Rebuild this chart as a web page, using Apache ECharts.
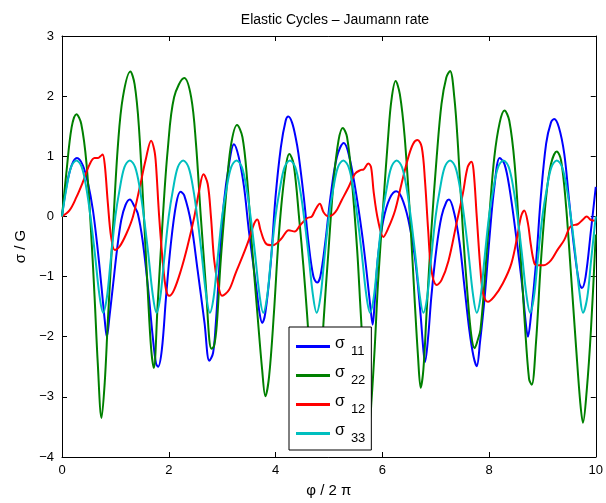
<!DOCTYPE html>
<html><head><meta charset="utf-8">
<script src="https://cdn.jsdelivr.net/npm/echarts@6/dist/echarts.min.js"></script>
<style>html,body{margin:0;padding:0;background:#fff}#c{width:606px;height:503px}</style>
</head><body><div id="c"></div>
<script>
// sigma_11 (blue)
var phi11 = [0,0.08,0.18,0.28,0.39,0.49,0.58,0.67,0.74,0.80,0.84,0.89,0.96,1.03,1.11,1.19,1.27,1.36,1.42,1.51,1.61,1.70,1.76,1.80,1.87,1.95,2.04,2.14,2.22,2.29,2.42,2.54,2.67,2.76,2.83,2.88,2.93,2.97,3.03,3.13,3.22,3.31,3.41,3.50,3.63,3.70,3.75,3.81,3.91,4.00,4.10,4.19,4.24,4.31,4.38,4.43,4.53,4.62,4.71,4.78,4.84,4.93,5.03,5.15,5.28,5.37,5.49,5.62,5.71,5.79,5.82,5.86,5.92,6.02,6.14,6.26,6.36,6.49,6.61,6.71,6.77,6.80,6.86,6.92,7.02,7.11,7.20,7.25,7.35,7.45,7.54,7.63,7.71,7.77,7.83,7.92,8.01,8.10,8.20,8.29,8.38,8.51,8.63,8.68,8.73,8.78,8.88,8.97,9.07,9.16,9.22,9.31,9.41,9.50,9.60,9.69,9.74,9.81,9.91,10.0];
var s11 = [0,0.49,0.85,0.97,0.85,0.54,0.10,-0.56,-1.17,-1.72,-2.0,-1.66,-1.11,-0.56,-0.06,0.19,0.28,0.16,0.05,-0.40,-1.17,-2.0,-2.44,-2.50,-2.22,-1.33,-0.45,0.21,0.41,0.35,-0.12,-0.89,-1.77,-2.40,-2.27,-1.80,-1.10,-0.50,0.21,0.87,1.20,0.99,0.49,-0.23,-1.11,-1.60,-1.77,-1.60,-0.78,0.32,1.15,1.59,1.66,1.56,1.30,1.04,0.32,-0.45,-1.0,-1.10,-1.0,-0.45,0.32,0.99,1.22,1.04,0.49,-0.28,-0.95,-1.61,-1.80,-1.40,-0.67,-0.06,0.30,0.42,0.32,-0.06,-0.67,-1.55,-2.22,-2.42,-2.0,-1.33,-0.50,0,0.24,0.28,0.05,-0.45,-1.17,-1.88,-2.33,-2.49,-2.10,-1.33,-0.34,0.49,0.97,0.87,0.49,-0.34,-1.22,-1.70,-2.0,-1.70,-0.78,0.32,1.21,1.56,1.62,1.48,1.04,0.27,-0.56,-1.11,-1.19,-1.0,-0.23,0.49];

// sigma_22 (green)
var phi22 = [0,0.08,0.18,0.27,0.36,0.46,0.55,0.61,0.67,0.74,0.80,0.86,0.96,1.05,1.14,1.28,1.36,1.44,1.54,1.61,1.67,1.72,1.79,1.89,1.98,2.10,2.29,2.42,2.51,2.60,2.70,2.76,2.80,2.85,2.90,2.97,3.07,3.16,3.28,3.38,3.47,3.56,3.66,3.75,3.81,3.88,3.97,4.06,4.16,4.26,4.34,4.45,4.52,4.59,4.66,4.72,4.77,4.83,4.90,4.99,5.09,5.18,5.26,5.34,5.43,5.53,5.59,5.65,5.71,5.76,5.80,5.86,5.92,6.02,6.11,6.17,6.25,6.33,6.42,6.52,6.61,6.67,6.72,6.77,6.83,6.92,7.02,7.11,7.20,7.27,7.35,7.42,7.51,7.60,7.67,7.73,7.79,7.84,7.92,8.01,8.10,8.20,8.29,8.38,8.48,8.57,8.67,8.75,8.80,8.88,8.97,9.07,9.16,9.27,9.35,9.44,9.53,9.63,9.71,9.76,9.83,9.91,10.0];
var s22 = [0,0.71,1.48,1.70,1.54,0.87,-0.34,-1.33,-2.44,-3.35,-2.77,-1.72,-0.12,1.21,1.98,2.41,2.20,1.50,-0.10,-1.30,-2.20,-2.52,-1.50,0,1.10,1.98,2.30,1.98,1.21,0,-1.22,-2.05,-2.20,-2.15,-1.80,-0.78,0.32,1.15,1.52,1.32,0.60,-0.50,-1.61,-2.55,-2.99,-2.66,-1.61,-0.34,0.60,1.04,0.87,-0.10,-0.80,-1.61,-2.50,-3.15,-3.45,-2.90,-1.75,-0.60,0.60,1.26,1.47,1.32,0.60,-0.56,-1.50,-2.40,-3.10,-3.43,-3.04,-2.16,-1.11,0.21,1.32,1.92,2.25,2.03,1.32,0,-1.44,-2.33,-2.85,-2.55,-1.61,-0.23,0.99,1.87,2.31,2.42,1.98,1.15,-0.23,-1.33,-1.99,-2.19,-2.05,-1.88,-1.05,0.05,0.99,1.56,1.76,1.59,0.87,-0.34,-1.77,-2.70,-2.80,-2.10,-0.78,0.32,0.87,1.08,0.93,0.21,-0.89,-2.16,-3.10,-3.43,-2.90,-1.88,-0.30];

// sigma_12 (red)
var phi12 = [0,0.14,0.27,0.39,0.52,0.61,0.67,0.72,0.76,0.80,0.86,0.92,0.99,1.08,1.21,1.33,1.46,1.57,1.67,1.73,1.76,1.82,1.89,1.95,2.01,2.10,2.23,2.35,2.48,2.57,2.65,2.73,2.79,2.85,2.92,3.00,3.13,3.25,3.38,3.50,3.60,3.66,3.72,3.82,3.95,4.10,4.25,4.36,4.46,4.59,4.68,4.74,4.83,4.90,4.99,5.12,5.24,5.37,5.49,5.59,5.65,5.74,5.79,5.84,5.92,6.02,6.11,6.24,6.36,6.49,6.58,6.66,6.74,6.80,6.86,6.92,7.02,7.11,7.24,7.39,7.51,7.60,7.67,7.71,7.77,7.84,7.89,7.98,8.10,8.26,8.42,8.54,8.60,8.66,8.73,8.78,8.85,8.91,9.03,9.16,9.28,9.41,9.50,9.56,9.66,9.75,9.83,9.91,10.0];
var s12 = [0,0.10,0.32,0.57,0.87,0.97,0.97,1.0,1.03,0.87,0.21,-0.34,-0.56,-0.50,-0.28,0,0.50,0.95,1.26,1.10,0.87,0,-0.78,-1.22,-1.32,-1.22,-0.89,-0.50,0,0.43,0.70,0.54,0,-0.72,-1.11,-1.32,-1.22,-0.95,-0.67,-0.39,-0.12,-0.05,-0.23,-0.45,-0.48,-0.38,-0.23,-0.25,-0.15,-0.03,0,0.10,0.21,0.07,0,0.07,0.27,0.49,0.71,0.77,0.78,0.88,0.82,0.40,-0.06,-0.34,-0.20,0.10,0.54,0.99,1.21,1.27,1.15,0.60,-0.23,-0.89,-1.14,-1.06,-0.74,-0.12,0.38,0.82,0.91,0.77,0,-0.89,-1.28,-1.42,-1.33,-1.11,-0.78,-0.28,0,0.10,-0.12,-0.45,-0.78,-0.81,-0.81,-0.73,-0.56,-0.39,-0.20,-0.15,-0.13,-0.06,0,-0.06,-0.07];

// sigma_33 (cyan)
var phi33 = [0,0.08,0.17,0.27,0.37,0.46,0.54,0.62,0.70,0.77,0.84,0.91,
 1.0,1.08,1.17,1.27,1.37,1.46,1.54,1.62,1.70,1.77,1.84,1.91,
 2.0,2.08,2.17,2.27,2.37,2.46,2.54,2.62,2.70,2.77,2.84,2.91,
 3.0,3.08,3.17,3.27,3.37,3.46,3.54,3.62,3.70,3.77,3.84,3.91,
 4.0,4.08,4.17,4.27,4.37,4.46,4.54,4.62,4.70,4.77,4.84,4.91,
 5.0,5.08,5.17,5.27,5.37,5.46,5.54,5.62,5.70,5.77,5.84,5.91,
 6.0,6.08,6.17,6.27,6.37,6.46,6.54,6.62,6.70,6.77,6.84,6.91,
 7.0,7.08,7.17,7.27,7.37,7.46,7.54,7.62,7.70,7.77,7.84,7.91,
 8.0,8.08,8.17,8.27,8.37,8.46,8.54,8.62,8.70,8.77,8.84,8.91,
 9.0,9.08,9.17,9.27,9.37,9.46,9.54,9.62,9.70,9.76,9.84,9.91,10.0];
var s33 = [0,0.45,0.82,0.93,0.82,0.45,-0.05,-0.65,-1.30,-1.60,-1.35,-0.75,
 0,0.45,0.82,0.93,0.82,0.45,-0.05,-0.65,-1.30,-1.60,-1.35,-0.75,
 0,0.45,0.82,0.93,0.82,0.45,-0.05,-0.65,-1.30,-1.60,-1.35,-0.75,
 0,0.45,0.82,0.93,0.82,0.45,-0.05,-0.65,-1.30,-1.60,-1.35,-0.75,
 0,0.45,0.82,0.93,0.82,0.45,-0.05,-0.65,-1.30,-1.60,-1.35,-0.75,
 0,0.45,0.82,0.93,0.82,0.45,-0.05,-0.65,-1.30,-1.60,-1.35,-0.75,
 0,0.45,0.82,0.93,0.82,0.45,-0.05,-0.65,-1.30,-1.60,-1.35,-0.75,
 0,0.45,0.82,0.93,0.82,0.45,-0.05,-0.65,-1.30,-1.60,-1.35,-0.75,
 0,0.45,0.82,0.93,0.82,0.45,-0.05,-0.65,-1.30,-1.60,-1.35,-0.75,
 0,0.45,0.82,0.93,0.82,0.45,-0.05,-0.65,-1.30,-1.60,-1.35,-0.75,0];

var seriesNames = ['σ11','σ22','σ12','σ33'];
var seriesColors = ['#0000ff','#008000','#ff0000','#00bfbf'];
var titleText = 'Elastic Cycles \u2013 Jaumann rate';
var xLabel = '\u03c6 / 2 \u03c0';
var yLabel = '\u03c3 / G';

function pairs(xs, ys){ return xs.map(function(x,i){ return [x, ys[i]]; }); }
function minusFmt(v){ return String(v).replace('-', '\u2212'); }
var allX = [phi11, phi22, phi12, phi33];
var allY = [s11, s22, s12, s33];

var FONT = 'Liberation Sans, Arial, sans-serif';
var chart = echarts.init(document.getElementById('c'), null, {renderer:'canvas'});
var axisCommon = {
  axisLine:{show:true, onZero:false, lineStyle:{color:'#000', width:1}},
  axisTick:{show:true, inside:true, length:5, lineStyle:{color:'#000'}},
  splitLine:{show:false}
};
var series = seriesNames.map(function(n,i){
  return {name:n, type:'line', data:pairs(allX[i], allY[i]), showSymbol:false, symbol:'none',
    smooth:0.35, lineStyle:{width:2, color:seriesColors[i]}, itemStyle:{color:seriesColors[i]}, z:2+i, animation:false};
});
chart.setOption({
  animation:false,
  backgroundColor:'#fff',
  title:{text:titleText, left:330, textAlign:'center', top:8, textStyle:{fontFamily:FONT, fontSize:14, fontWeight:'normal', color:'#000'}},
  grid:{left:62, right:9, top:36, bottom:45},
  xAxis:[
    Object.assign({type:'value', min:0, max:10, interval:2, position:'bottom',
      name:xLabel, nameLocation:'middle', nameGap:26, nameTextStyle:{fontFamily:FONT, fontSize:15, color:'#000'},
      axisLabel:{fontFamily:FONT, fontSize:13, color:'#000', margin:7}}, axisCommon),
    Object.assign({type:'value', min:0, max:10, interval:2, position:'top', axisLabel:{show:false}}, axisCommon)
  ],
  yAxis:[
    Object.assign({type:'value', min:-4, max:3, interval:1, position:'left',
      name:yLabel, nameLocation:'middle', nameGap:32, nameTextStyle:{fontFamily:FONT, fontSize:15, color:'#000'},
      axisLabel:{fontFamily:FONT, fontSize:13, color:'#000', margin:8, formatter:minusFmt}}, axisCommon),
    Object.assign({type:'value', min:-4, max:3, interval:1, position:'right', axisLabel:{show:false}}, axisCommon)
  ],
  legend:{
    orient:'vertical', left:289, top:327, width:80,
    backgroundColor:'#fff', borderColor:'#000', borderWidth:1, borderRadius:0,
    padding:[8,6,5,7], itemGap:6, itemWidth:34, itemHeight:3,
    data:seriesNames.map(function(n,i){ return {name:n, icon:'rect', itemStyle:{color:seriesColors[i]}}; }),
    formatter:function(n){ return '{s|\u03c3}{n|' + n.slice(1) + '}'; },
    textStyle:{rich:{
      s:{fontFamily:FONT, fontSize:16, color:'#000', lineHeight:22, verticalAlign:'top'},
      n:{fontFamily:FONT, fontSize:13, color:'#000', padding:[10,0,0,6], lineHeight:22}
    }}
  },
  series:series
});
</script></body></html>
